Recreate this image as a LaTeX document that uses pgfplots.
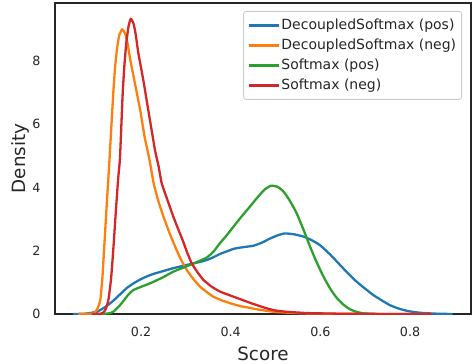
\documentclass[border=0pt]{standalone}
\usepackage{pgfplots}
\pgfplotsset{compat=1.18}
\usepackage{fontspec}
\setmainfont{DejaVu Sans}
\definecolor{tabblue}{HTML}{1F77B4}
\definecolor{taborange}{HTML}{FF7F0E}
\definecolor{tabgreen}{HTML}{2CA02C}
\definecolor{tabred}{HTML}{D62728}
\definecolor{axgray}{HTML}{262626}
\begin{document}
\begin{tikzpicture}
\useasboundingbox (-55bp,-50bp) rectangle (417bp,314bp);
\begin{axis}[
  at={(0,0)}, anchor=south west,
  scale only axis,
  width=416bp, height=311bp,
  xmin=0.008, xmax=0.936,
  ymin=0, ymax=9.84,
  xtick={0.2,0.4,0.6,0.8},
  ytick={0,2,4,6,8},
  xticklabels={0.2,0.4,0.6,0.8},
  /pgf/number format/assume math mode=true,
  major tick length=0pt,
  axis line style={draw=axgray, line width=2bp},
  tick label style={font=\fontsize{12.7bp}{15bp}\selectfont, text=axgray},
  xticklabel style={yshift=-10bp},
  yticklabel style={xshift=-11bp},
  label style={font=\fontsize{18.3bp}{22bp}\selectfont, text=axgray},
  xlabel={Score},
  ylabel={Density},
  xlabel style={at={(axis description cs:0.5,-0.1495)}, anchor=base},
  ylabel style={at={(axis description cs:-0.0721,0.5)}, anchor=base},
  legend cell align=left,
  legend style={at={(0.9784,0.9743)}, anchor=north east, draw=black!20, line width=0.8bp,
    rounded corners=2.5bp, fill=white,
    font=\fontsize{14bp}{16bp}\selectfont, text=axgray,
    row sep=0bp, column sep=0bp, inner sep=4bp,
    nodes={inner sep=1.5bp, minimum height=20bp, anchor=west}},
  legend image code/.code={\draw[#1, line width=2.3bp, sharp corners] (0bp,0bp) -- (30bp,0bp);},
  every axis plot/.append style={line width=2.3bp, line join=round, no markers, smooth, tension=0.3},
]
\addplot[tabblue] coordinates {
(0.048,0) (0.075,0.01) (0.101,0.07) (0.12,0.22) (0.138,0.42) (0.153,0.62) (0.168,0.82) (0.183,0.97) (0.198,1.09) (0.213,1.19) (0.228,1.27) (0.25,1.36) (0.272,1.45) (0.295,1.53) (0.317,1.60) (0.332,1.65) (0.347,1.71) (0.362,1.80) (0.376,1.90) (0.391,1.98) (0.406,2.06) (0.421,2.10) (0.436,2.13) (0.451,2.16) (0.47,2.26) (0.488,2.39) (0.505,2.49) (0.521,2.55) (0.542,2.52) (0.562,2.45) (0.58,2.34) (0.599,2.18) (0.622,1.88) (0.644,1.55) (0.662,1.28) (0.681,1.02) (0.70,0.80) (0.718,0.60) (0.737,0.43) (0.755,0.28) (0.775,0.17) (0.793,0.10) (0.81,0.06) (0.83,0.03) (0.86,0.01) (0.895,0)
};
\addlegendentry{DecoupledSoftmax (pos)}
\addplot[taborange] coordinates {
(0.06,0) (0.09,0.01) (0.097,0.05) (0.103,0.18) (0.109,0.44) (0.114,1.2) (0.119,2.4) (0.124,3.6) (0.129,4.75) (0.134,6.0) (0.138,6.98) (0.142,7.8) (0.146,8.35) (0.151,8.8) (0.158,9.01) (0.165,8.85) (0.170,8.55) (0.176,8.04) (0.187,7.25) (0.198,6.46) (0.208,5.6) (0.219,4.87) (0.228,4.14) (0.239,3.55) (0.25,3.08) (0.263,2.58) (0.276,2.13) (0.289,1.72) (0.302,1.39) (0.317,1.10) (0.332,0.86) (0.347,0.69) (0.361,0.55) (0.38,0.43) (0.399,0.34) (0.421,0.25) (0.44,0.2) (0.458,0.15) (0.48,0.1) (0.50,0.065) (0.53,0.04) (0.57,0.02) (0.65,0.005) (0.85,0)
};
\addlegendentry{DecoupledSoftmax (neg)}
\addplot[tabgreen] coordinates {
(0.10,0) (0.116,0.005) (0.128,0.02) (0.138,0.07) (0.153,0.28) (0.161,0.42) (0.172,0.62) (0.183,0.76) (0.20,0.86) (0.213,0.93) (0.228,1.02) (0.25,1.17) (0.272,1.34) (0.295,1.47) (0.317,1.60) (0.332,1.69) (0.347,1.79) (0.362,1.98) (0.376,2.24) (0.391,2.49) (0.406,2.76) (0.421,3.03) (0.44,3.35) (0.458,3.66) (0.475,3.93) (0.490,4.06) (0.505,4.02) (0.518,3.87) (0.532,3.58) (0.547,3.19) (0.562,2.68) (0.577,2.13) (0.592,1.63) (0.607,1.18) (0.622,0.80) (0.637,0.50) (0.652,0.29) (0.666,0.15) (0.68,0.07) (0.696,0.02) (0.725,0)
};
\addlegendentry{Softmax (pos)}
\addplot[tabred] coordinates {
(0.09,0) (0.11,0.01) (0.116,0.05) (0.121,0.15) (0.127,0.44) (0.133,1.10) (0.138,2.03) (0.144,3.3) (0.149,4.3) (0.153,4.95) (0.159,6.98) (0.163,7.9) (0.167,8.57) (0.172,9.1) (0.177,9.34) (0.183,9.2) (0.188,8.85) (0.194,8.25) (0.205,7.4) (0.216,6.46) (0.231,5.19) (0.239,4.68) (0.246,4.14) (0.259,3.6) (0.272,3.08) (0.283,2.68) (0.294,2.29) (0.303,1.94) (0.313,1.60) (0.326,1.32) (0.339,1.08) (0.357,0.87) (0.376,0.71) (0.40,0.58) (0.421,0.47) (0.45,0.32) (0.48,0.18) (0.50,0.11) (0.525,0.07) (0.57,0.03) (0.64,0.01) (0.70,0.004) (0.85,0)
};
\addlegendentry{Softmax (neg)}
\end{axis}
\end{tikzpicture}
\end{document}
